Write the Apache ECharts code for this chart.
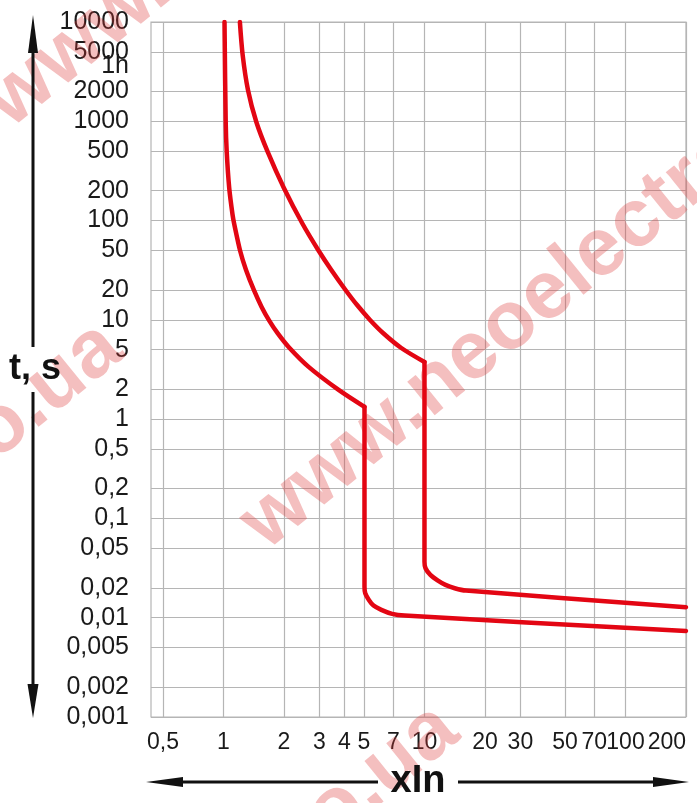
<!DOCTYPE html>
<html><head><meta charset="utf-8">
<script src="https://cdn.jsdelivr.net/npm/echarts@6/dist/echarts.min.js"></script>
<style>html,body{margin:0;padding:0;background:#fff}#c{width:697px;height:803px}</style>
</head><body><div id="c"></div>
<script>
// Tick values (multiples of In on x, seconds on y)
const xTicks = [0.5, 1, 2, 3, 4, 5, 7, 10, 20, 30, 50, 70, 100, 200];
const yTicks = [0.001, 0.002, 0.005, 0.01, 0.02, 0.05, 0.1, 0.2, 0.5, 1, 2, 5, 10, 20, 50, 100, 200, 500, 1000, 2000, 5000, 10000];
const yLabelValues = yTicks.concat([3600]);   // 3600 s shown as "1h"

// Lower curve: thermal part, then magnetic part (drop at 5 In)
const lowThermX = [1.012, 1.026, 1.038, 1.068, 1.110, 1.131, 1.211, 1.295, 1.416, 1.548, 1.692, 1.855, 2.109, 2.652, 3.740, 5.03];
const lowThermT = [10000, 984, 491, 213, 114, 92.4, 49.4, 31.8, 20.0, 13.5, 9.75, 7.38, 5.33, 3.36, 1.97, 1.33];
const lowMagX = [5.03, 5.03, 5.073, 5.29, 5.58, 6.10, 6.90, 7.96, 200];
const lowMagT = [1.33, 0.02056, 0.01766, 0.01511, 0.01324, 0.01199, 0.01093, 0.0105, 0.00736];

// Upper curve: thermal part, then magnetic part (drop at 10 In)
const highThermX = [1.207, 1.246, 1.324, 1.457, 1.660, 1.998, 2.477, 2.981, 3.440, 4.048, 4.622, 5.359, 6.220, 7.669, 10];
const highThermT = [10000, 4655, 2067, 984, 491, 213, 92.4, 49.4, 31.8, 20.0, 14.1, 9.98, 7.38, 5.21, 3.77];
const highMagX = [10, 10, 10.12, 10.70, 11.67, 12.72, 14.14, 16.08, 200];
const highMagT = [3.77, 0.0367, 0.0315, 0.0270, 0.02364, 0.02140, 0.01982, 0.01875, 0.01276];

const zip = (a, b) => a.map((v, i) => [v, b[i]]);
const fmtNum = v => {
  const n = Number(Number(v).toPrecision(6));
  if (Math.abs(n - 3600) < 1) return '1h';
  return String(n).replace('.', ',');
};

const RED = '#e30613';
const ARROW = '#111';
const WM = 'rgba(220,55,55,0.32)';
const WMFONT = 'bold 82px "Liberation Sans", Arial';
const ang = 39 * Math.PI / 180;

const curve = (x, t) => ({
  type: 'line', data: zip(x, t), showSymbol: false, symbol: 'none', z: 5, smooth: 0.3,
  lineStyle: {color: RED, width: 4.5, join: 'round', cap: 'round'}
});

const chart = echarts.init(document.getElementById('c'), null, {renderer: 'canvas'});
chart.setOption({
  backgroundColor: '#fff',
  animation: false,
  grid: {left: 151, top: 22, right: 11, bottom: 86, show: true, borderColor: '#b5b5b5', borderWidth: 1.2, containLabel: false},
  xAxis: {
    type: 'log', logBase: 10, min: 0.436, max: 200,
    axisLine: {show: false},
    axisTick: {show: false, customValues: xTicks},
    axisLabel: {customValues: xTicks, formatter: fmtNum, fontSize: 23, color: '#1a1a1a', margin: 14,
      fontFamily: "'Liberation Sans', Arial, sans-serif", alignMaxLabel: 'right'},
    splitLine: {show: true, lineStyle: {color: '#b5b5b5', width: 1.2}},
    minorSplitLine: {show: false}
  },
  yAxis: {
    type: 'log', logBase: 10, min: 0.001, max: 10000,
    axisLine: {show: false},
    axisTick: {show: false, customValues: yTicks},
    axisLabel: {customValues: yLabelValues, formatter: fmtNum, fontSize: 25, color: '#1a1a1a', margin: 22,
      fontFamily: "'Liberation Sans', Arial, sans-serif"},
    splitLine: {show: true, lineStyle: {color: '#b5b5b5', width: 1.2}},
    minorSplitLine: {show: false}
  },
  graphic: [
    // watermark
    {type: 'text', z: 1, rotation: ang, x: -4, y: 112, style: {text: 'www.neoelectro.ua', fill: WM, font: WMFONT, textAlign: 'left', textVerticalAlign: 'middle'}},
    {type: 'text', z: 1, rotation: ang, x: 112, y: 338, style: {text: 'www.neoelectro.ua', fill: WM, font: WMFONT, textAlign: 'right', textVerticalAlign: 'middle'}},
    {type: 'text', z: 1, rotation: ang, x: 252, y: 534, style: {text: 'www.neoelectro.ua', fill: WM, font: WMFONT, textAlign: 'left', textVerticalAlign: 'middle'}},
    {type: 'text', z: 1, rotation: ang, x: 448, y: 720, style: {text: 'www.neoelectro.ua', fill: WM, font: WMFONT, textAlign: 'right', textVerticalAlign: 'middle'}},
    // vertical double arrow (t, s)
    {type: 'line', z: 10, shape: {x1: 33, y1: 40, x2: 33, y2: 347}, style: {stroke: ARROW, lineWidth: 3}},
    {type: 'polygon', z: 10, shape: {points: [[33, 15], [28, 53], [38, 53]]}, style: {fill: ARROW}},
    {type: 'line', z: 10, shape: {x1: 33, y1: 392, x2: 33, y2: 695}, style: {stroke: ARROW, lineWidth: 3}},
    {type: 'polygon', z: 10, shape: {points: [[33, 718], [27.5, 684], [38.5, 684]]}, style: {fill: ARROW}},
    {type: 'text', z: 10, x: 35, y: 369, style: {text: 't, s', fill: '#111', font: 'bold 36px "Liberation Sans", Arial', textAlign: 'center', textVerticalAlign: 'middle'}},
    // horizontal double arrow (xIn)
    {type: 'line', z: 10, shape: {x1: 170, y1: 782, x2: 378, y2: 782}, style: {stroke: ARROW, lineWidth: 3}},
    {type: 'polygon', z: 10, shape: {points: [[146, 782], [183, 777], [183, 787]]}, style: {fill: ARROW}},
    {type: 'line', z: 10, shape: {x1: 458, y1: 782, x2: 665, y2: 782}, style: {stroke: ARROW, lineWidth: 3}},
    {type: 'polygon', z: 10, shape: {points: [[689, 782], [653, 777], [653, 787]]}, style: {fill: ARROW}},
    {type: 'text', z: 10, x: 418, y: 782, style: {text: 'xIn', fill: '#111', font: "bold 38px 'Liberation Sans', Arial", textAlign: 'center', textVerticalAlign: 'middle'}}
  ],
  series: [
    curve(lowThermX, lowThermT),
    curve(lowMagX, lowMagT),
    curve(highThermX, highThermT),
    curve(highMagX, highMagT)
  ]
});
</script>
</body></html>
